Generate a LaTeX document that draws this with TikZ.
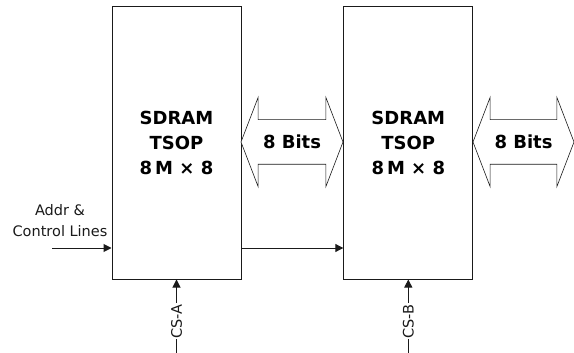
\documentclass[tikz,border=0pt]{standalone}
\usepackage{fontspec}
\setmainfont{DejaVu Sans}
\usepackage{tikz}
\usetikzlibrary{arrows.meta,positioning,shapes.arrows,calc}
\definecolor{sdline}{HTML}{1A1A1A}

\begin{document}
\begin{tikzpicture}[
  x=1pt,
  y=-1pt,
  chip/.style={rectangle, draw=sdline, line width=1pt, fill=white, minimum width=129pt, minimum height=272pt, align=center, font=\fontsize{18}{25}\selectfont\bfseries},
  bus/.style={double arrow, draw=sdline, line width=0.6pt, fill=white, double arrow head extend=22.5pt, double arrow tip angle=138, double arrow head indent=0pt, inner xsep=0pt, inner ysep=15.5pt, text height=13pt, text depth=0pt, font=\fontsize{18}{20}\selectfont\bfseries},
  sig/.style={-{Triangle[length=8pt, width=8pt]}, draw=sdline, line width=1pt},
  lab/.style={font=\fontsize{14.5}{21}\selectfont, align=center, text=sdline}
]
  \useasboundingbox (0,0) rectangle (574,353);
  \node[chip] (sdA) at (176.5,143) {SDRAM\\TSOP\\8\,M × 8};
  \node[chip] (sdB) at (408.3,143) {SDRAM\\TSOP\\8\,M × 8};

  \node[bus, minimum height=102pt] (busA) at (292,142) {8 Bits};
  \node[bus, minimum height=101pt] (busB) at (523.5,142) {8 Bits};

  \node[lab] (addr) at (60,221) {Addr \&\\Control Lines};
  \coordinate (addrin) at (52,248);
  \draw[sig] (addrin) -- (addrin -| sdA.west);
  \draw[sig] (sdA.east |- addrin) -- (sdB.west |- addrin);

  \coordinate (csa) at (176.5,353);
  \coordinate (csb) at (408.3,353);
  \draw[sig] (csa) -- node[pos=0.43, rotate=90, fill=white, inner sep=1pt, lab] {CS-A} (sdA.south);
  \draw[sig] (csb) -- node[pos=0.43, rotate=90, fill=white, inner sep=1pt, lab] {CS-B} (sdB.south);
\end{tikzpicture}
\end{document}
